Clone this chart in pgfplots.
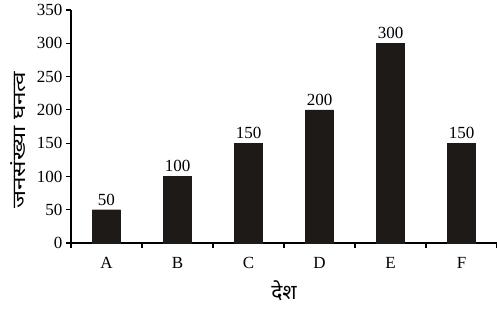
\documentclass[border=0pt]{standalone}
\usepackage{fontspec}
\setmainfont{Liberation Serif}
\newfontfamily\hindi[Script=Devanagari]{Noto Sans}
\newfontfamily\hindiwide[Script=Devanagari, FakeStretch=1.35]{Noto Sans}
\usepackage{pgfplots}
\pgfplotsset{compat=1.18}
\definecolor{barc}{HTML}{1E1A17}
\begin{document}
\begin{tikzpicture}
\begin{axis}[
  at={(0pt,0pt)}, anchor=south west,
  scale only axis,
  width=426pt, height=233pt,
  xmin=-0.5, xmax=5.5, ymin=0, ymax=350,
  axis x line=bottom, axis y line=left,
  axis line style={-, line width=1.1pt},
  xtick={0,...,5},
  xticklabels={A,B,C,D,E,F},
  major x tick style={draw=none},
  minor xtick={-0.5,0.5,...,5.5},
  minor tick length=5pt,
  minor x tick style={line width=1.1pt, black},
  ytick={0,50,...,350},
  major tick length=5pt,
  tick align=outside,
  y tick style={line width=1.1pt, black},
  tick label style={font=\fontsize{17}{20}\selectfont},
  /pgf/number format/assume math mode=true,
  xticklabel style={yshift=-6pt},
  ybar, bar width=28pt,
  nodes near coords,
  nodes near coords style={font=\fontsize{17}{20}\selectfont, anchor=south, yshift=1pt},
  xlabel={\hindi देश},
  ylabel={\hindiwide जनसंख्या घनत्व},
  xlabel style={font=\fontsize{21}{24}\selectfont, yshift=-5pt},
  ylabel style={font=\fontsize{18}{21}\selectfont, yshift=4pt, xshift=-14pt},
]
\addplot[fill=barc, draw=barc] coordinates {(0,50) (1,100) (2,150) (3,200) (4,300) (5,150)};
\end{axis}
\pgfresetboundingbox
\path (-71pt,-65pt) rectangle (426pt,243pt);
\end{tikzpicture}
\end{document}
